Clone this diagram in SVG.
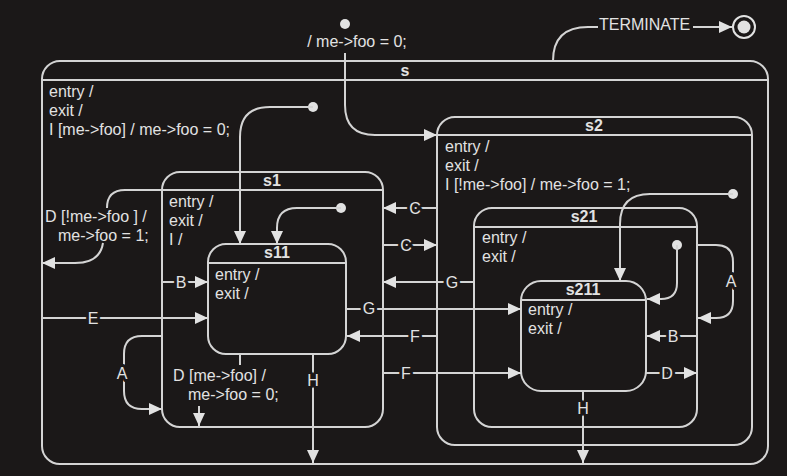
<svg xmlns="http://www.w3.org/2000/svg" width="787" height="476" viewBox="0 0 787 476">
<style>
.st{fill:none;stroke:#d4d4d4;stroke-width:2}
.ln{fill:none;stroke:#d4d4d4;stroke-width:2}
.ar{marker-end:url(#arr)}
.t{font-family:"Liberation Sans",Arial,sans-serif;font-size:16px;fill:#e2e2e2}
.b{font-weight:bold;text-anchor:middle}
.lb{text-anchor:middle;paint-order:stroke;stroke:#1b1818;stroke-width:6px;stroke-linejoin:round}
.dot{fill:#e2e2e2}
</style>
<defs>
<marker id="arr" markerUnits="userSpaceOnUse" markerWidth="13" markerHeight="12" refX="13" refY="6" orient="auto" viewBox="0 0 13 12">
<path d="M0,0 L13,6 L0,12 z" fill="#e2e2e2"/>
</marker>
</defs>
<rect width="787" height="476" fill="#1b1818"/>

<g id="s">
<rect class="st" x="42" y="61" width="726" height="403" rx="18"/>
<line class="st" x1="42" y1="80" x2="768" y2="80"/>
<text class="t b" x="405" y="76">s</text>
<text class="t" x="49" y="97">entry /</text>
<text class="t" x="49" y="116">exit /</text>
<text class="t" x="49" y="135">I [me-&gt;foo] / me-&gt;foo = 0;</text>
</g>

<g id="s1">
<rect class="st" x="162" y="172" width="221" height="255" rx="18"/>
<line class="st" x1="162" y1="190" x2="383" y2="190"/>
<text class="t b" x="272" y="186">s1</text>
<text class="t" x="169" y="207">entry /</text>
<text class="t" x="169" y="226">exit /</text>
<text class="t" x="169" y="245">I /</text>
</g>

<g id="s11">
<rect class="st" x="208" y="244" width="138" height="110" rx="18"/>
<line class="st" x1="208" y1="263" x2="346" y2="263"/>
<text class="t b" x="277" y="258">s11</text>
<text class="t" x="215" y="280">entry /</text>
<text class="t" x="215" y="299">exit /</text>
</g>

<g id="s2">
<rect class="st" x="437" y="117" width="315" height="328" rx="18"/>
<line class="st" x1="437" y1="135" x2="752" y2="135"/>
<text class="t b" x="594" y="131">s2</text>
<text class="t" x="445" y="152">entry /</text>
<text class="t" x="445" y="171">exit /</text>
<text class="t" x="445" y="190">I [!me-&gt;foo] / me-&gt;foo = 1;</text>
</g>

<g id="s21">
<rect class="st" x="474" y="208" width="223" height="219" rx="18"/>
<line class="st" x1="474" y1="227" x2="697" y2="227"/>
<text class="t b" x="584" y="222">s21</text>
<text class="t" x="482" y="243">entry /</text>
<text class="t" x="482" y="262">exit /</text>
</g>

<g id="s211">
<rect class="st" x="521" y="281" width="125" height="110" rx="20"/>
<line class="st" x1="521" y1="300" x2="646" y2="300"/>
<text class="t b" x="583" y="295">s211</text>
<text class="t" x="528" y="315">entry /</text>
<text class="t" x="528" y="334">exit /</text>
</g>

<g id="final">
<circle cx="744" cy="27" r="11" fill="none" stroke="#e2e2e2" stroke-width="2"/>
<circle cx="744" cy="27" r="6.5" class="dot"/>
</g>

<g id="connectors">
<!-- top initial -->
<circle class="dot" cx="345" cy="24" r="5"/>
<text class="t" x="357" y="47" text-anchor="middle">/ me-&gt;foo = 0;</text>
<path class="ln ar" d="M345,53 V105 Q345,135 375,135 H437"/>
<!-- TERMINATE -->
<path class="ln" d="M553,61 Q553,27 588,27 H598"/>
<text class="t" x="599" y="30">TERMINATE</text>
<path class="ln ar" d="M693,27 H732"/>
<!-- s initial -->
<circle class="dot" cx="313" cy="107" r="5"/>
<path class="ln ar" d="M313,107 H270 Q240,107 240,137 V244"/>
<!-- s1 initial -->
<circle class="dot" cx="341" cy="208" r="5"/>
<path class="ln ar" d="M341,208 H297 Q277,208 277,228 V244"/>
<!-- s2 initial -->
<circle class="dot" cx="733" cy="194" r="5"/>
<path class="ln ar" d="M733,194 H650 Q620,194 620,224 V281"/>
<!-- s21 initial -->
<circle class="dot" cx="677" cy="245" r="5"/>
<path class="ln ar" d="M677,245 V283 Q677,299 661,299 H647"/>
<!-- A on s21 -->
<path class="ln ar" d="M697,245 H716 Q733,245 733,262 V301 Q733,318 716,318 H698"/>
<text class="t lb" x="731" y="287">A</text>
<!-- B to s211 -->
<path class="ln ar" d="M697,336 H647"/>
<text class="t lb" x="673" y="342">B</text>
<!-- D from s211 -->
<path class="ln ar" d="M646,373 H697"/>
<text class="t lb" x="667" y="379">D</text>
<!-- H from s211 -->
<path class="ln ar" d="M583,391 V463"/>
<text class="t lb" x="583" y="414">H</text>
<!-- F s2 -> s11 -->
<path class="ln ar" d="M437,336 H347"/>
<text class="t lb" x="415" y="342">F</text>
<!-- F s1 -> s211 -->
<path class="ln ar" d="M383,373 H521"/>
<text class="t lb" x="406" y="379">F</text>
<!-- G s11 -> s211 -->
<path class="ln ar" d="M346,309 H521"/>
<text class="t lb" x="369" y="314">G</text>
<!-- G s21 -> s1 -->
<path class="ln ar" d="M474,282 H383"/>
<text class="t lb" x="452" y="288">G</text>
<!-- C s2 -> s1 -->
<path class="ln ar" d="M437,208 H383"/>
<text class="t lb" x="415" y="214">C</text>
<!-- C s1 -> s2 -->
<path class="ln ar" d="M383,245 H437"/>
<text class="t lb" x="406" y="251">C</text>
<!-- D [!me->foo] -->
<path class="ln" d="M107,208 Q107,190 125,190 H162"/>
<text class="t" x="45" y="222">D [!me-&gt;foo ] /</text>
<text class="t" x="58" y="241">me-&gt;foo = 1;</text>
<path class="ln ar" d="M103,243 Q100,263 75,263 H42"/>
<!-- B s1 -> s11 -->
<path class="ln ar" d="M162,282 H208"/>
<text class="t lb" x="181" y="288">B</text>
<!-- E -->
<path class="ln ar" d="M42,318 H208"/>
<text class="t lb" x="93" y="324">E</text>
<!-- A on s1 -->
<path class="ln ar" d="M162,336 H142 Q124,336 124,354 V391 Q124,409 142,409 H162"/>
<text class="t lb" x="122" y="379">A</text>
<!-- D [me->foo] -->
<path class="ln" d="M240,354 V365"/>
<text class="t" x="173" y="381">D [me-&gt;foo] /</text>
<text class="t" x="188" y="400">me-&gt;foo = 0;</text>
<path class="ln ar" d="M199,406 V426"/>
<!-- H from s11 -->
<path class="ln ar" d="M313,354 V463"/>
<text class="t lb" x="313" y="386">H</text>
</g>
</svg>
